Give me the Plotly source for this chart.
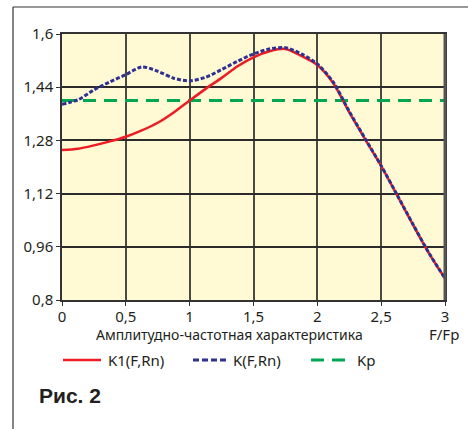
import plotly.graph_objects as go

# ---- data ----
F = [0, 0.125, 0.25, 0.375, 0.5, 0.625, 0.75, 0.875, 1.0, 1.125, 1.25, 1.375, 1.5,
     1.625, 1.75, 1.875, 2.0, 2.125, 2.25, 2.375, 2.5, 2.625, 2.75, 2.875, 3.0]
K1 = [1.251, 1.255, 1.265, 1.277, 1.291, 1.310, 1.333, 1.364, 1.400, 1.435, 1.468, 1.503, 1.530,
      1.548, 1.555, 1.534, 1.507, 1.452, 1.365, 1.283, 1.203, 1.115, 1.026, 0.940, 0.865]
K = [1.389, 1.402, 1.432, 1.456, 1.478, 1.501, 1.488, 1.467, 1.459, 1.470, 1.493, 1.518, 1.540,
     1.555, 1.559, 1.540, 1.510, 1.455, 1.367, 1.285, 1.204, 1.116, 1.027, 0.941, 0.865]
Kp_F = [0, 3]
Kp = [1.40, 1.40]

x_ticks = [0, 0.5, 1, 1.5, 2, 2.5, 3]
x_ticktext = ["0", "0,5", "1", "1,5", "2", "2,5", "3"]
y_ticks = [0.8, 0.96, 1.12, 1.28, 1.44, 1.6]
y_ticktext = ["0,8", "0,96", "1,12", "1,28", "1,44", "1,6"]

names = ["K1(F,Rn)", "K(F,Rn)", "Kp"]
x_title = "Амплитудно-частотная характеристика"
x_unit = "F/Fp"
caption = "Рис. 2"

FONT = "Noto Sans"
TXT = "#231F20"
RED, BLUE, GREEN = "#ED1C24", "#2E3192", "#00A651"
W, H = 468, 429
ML, MR, MT, MB = 62, 23, 34, 129
pw, ph = W - ML - MR, H - MT - MB


def px(x):
    return (x - ML) / pw


def py(y):
    return (MT + ph - y) / ph


fig = go.Figure()
fig.add_trace(go.Scatter(x=Kp_F, y=Kp, mode="lines", name=names[2],
                         line=dict(color=GREEN, width=3, dash="13px,8px")))
fig.add_trace(go.Scatter(x=F, y=K1, mode="lines", name=names[0],
                         line=dict(color=RED, width=2.5, shape="spline", smoothing=0.8)))
fig.add_trace(go.Scatter(x=F, y=K, mode="lines", name=names[1],
                         line=dict(color=BLUE, width=3, shape="spline", smoothing=0.8,
                                   dash="4px,2px")))

# legend drawn as samples + labels below the chart
LEG_Y = 360
legend_items = [
    (63, 101, 108, names[0], RED, "solid", 2.5),
    (193, 228, 233, names[1], BLUE, "6px,3px", 3),
    (311, 346, 357, names[2], GREEN, "13px,8px", 3),
]
shapes = [
    dict(type="line", xref="paper", yref="paper", x0=px(13), x1=px(13), y0=py(7), y1=py(432),
         line=dict(color="#333333", width=1.2)),
    dict(type="line", xref="paper", yref="paper", x0=px(13), x1=px(470), y0=py(7), y1=py(7),
         line=dict(color="#333333", width=1.2)),
    dict(type="line", xref="paper", yref="paper", x0=1, x1=1, y0=0, y1=1,
         line=dict(color="#555555", width=3)),
]
annotations = [
    dict(text=x_title, xref="paper", yref="paper", x=px(229), y=py(334),
         xanchor="center", yanchor="middle", showarrow=False,
         font=dict(family=FONT, size=14, color=TXT)),
    dict(text=x_unit, xref="paper", yref="paper", x=px(444), y=py(334),
         xanchor="center", yanchor="middle", showarrow=False,
         font=dict(family=FONT, size=15, color=TXT)),
    dict(text="<b>" + caption + "</b>", xref="paper", yref="paper", x=px(37), y=py(395),
         xanchor="left", yanchor="middle", showarrow=False,
         font=dict(family="Liberation Sans", size=21, color=TXT)),
]
for x0, x1, xt, label, col, dash, w in legend_items:
    shapes.append(dict(type="line", xref="paper", yref="paper", x0=px(x0), x1=px(x1),
                       y0=py(LEG_Y), y1=py(LEG_Y), line=dict(color=col, width=w, dash=dash)))
    annotations.append(dict(text=label, xref="paper", yref="paper", x=px(xt - 2), y=py(LEG_Y),
                            xanchor="left", yanchor="middle", showarrow=False,
                            font=dict(family=FONT, size=15, color=TXT)))

fig.update_layout(
    width=W, height=H,
    margin=dict(l=ML, r=MR, t=MT, b=MB),
    paper_bgcolor="white",
    plot_bgcolor="#FFF9D4",
    font=dict(family=FONT, size=15, color=TXT),
    showlegend=False,
    xaxis=dict(range=[0, 3], tickvals=x_ticks, ticktext=x_ticktext,
               showgrid=True, gridcolor="#4a4a44", gridwidth=1.5,
               showline=True, mirror=True, linecolor="#333333", linewidth=1.5,
               ticks="outside", ticklen=4, tickcolor="#333333", zeroline=False,
               ticklabelstandoff=-2,
               tickfont=dict(family=FONT, size=15, color=TXT)),
    yaxis=dict(range=[0.8, 1.6], tickvals=y_ticks, ticktext=y_ticktext,
               showgrid=True, gridcolor="#2b2b2b", gridwidth=1.5,
               showline=True, mirror=True, linecolor="#333333", linewidth=1.5,
               ticks="outside", ticklen=4, tickcolor="#333333", zeroline=False,
               tickfont=dict(family=FONT, size=15, color=TXT)),
    shapes=shapes,
    annotations=annotations,
)

fig.write_html("out.html")
